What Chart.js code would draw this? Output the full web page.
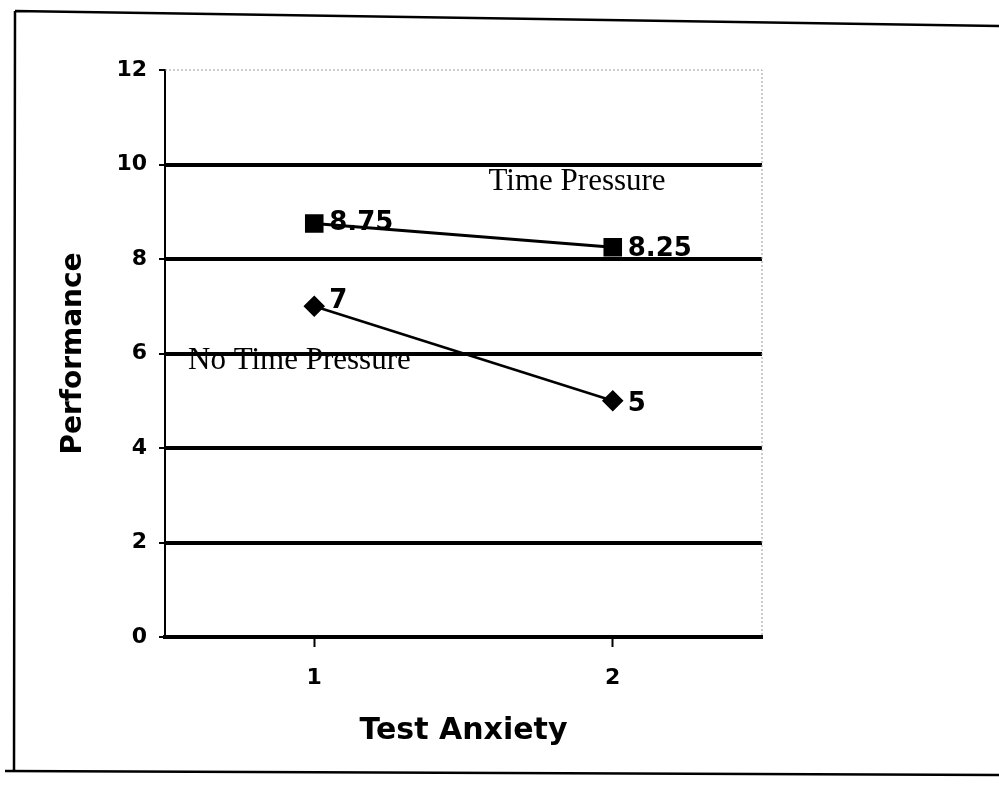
<!DOCTYPE html>
<html>
<head>
<meta charset="utf-8">
<script src="https://cdn.jsdelivr.net/npm/chart.js@4.4.1/dist/chart.umd.min.js"></script>
<style>
  html, body { margin: 0; padding: 0; background: #fff; }
  #wrap { width: 999px; height: 790px; position: relative; }
</style>
</head>
<body>
<div id="wrap"><canvas id="chart" width="999" height="790"></canvas></div>
<script>
// Daten aus der Abbildung
const categories = ['1', '2'];
const timePressure = [8.75, 8.25];
const noTimePressure = [7, 5];
const timePressureLabels = ['8.75', '8.25'];
const noTimePressureLabels = ['7', '5'];
const yTicks = [0, 2, 4, 6, 8, 10, 12];

// Rahmen, Beschriftungen der Punkte und Serienbeschriftungen
const extrasPlugin = {
  id: 'extras',
  beforeDraw(chart) {
    const ctx = chart.ctx;
    ctx.save();
    ctx.fillStyle = '#fff';
    ctx.fillRect(0, 0, chart.width, chart.height);
    ctx.restore();
  },
  afterDraw(chart) {
    const ctx = chart.ctx;
    const area = chart.chartArea;
    const y = chart.scales.y;
    const x = chart.scales.x;
    ctx.save();

    // gepunkteter Rand oben und rechts
    ctx.strokeStyle = '#9a9a9a';
    ctx.lineWidth = 1;
    ctx.setLineDash([2, 2]);
    ctx.beginPath();
    ctx.moveTo(area.left, area.top);
    ctx.lineTo(area.right, area.top);
    ctx.lineTo(area.right, area.bottom);
    ctx.stroke();
    ctx.setLineDash([]);

    // äußerer Rahmen
    ctx.strokeStyle = '#000';
    ctx.lineWidth = 2.5;
    ctx.beginPath();
    ctx.moveTo(15, 11);
    ctx.lineTo(999, 26);
    ctx.moveTo(15, 11);
    ctx.lineTo(14, 772);
    ctx.moveTo(5, 771);
    ctx.lineTo(999, 775);
    ctx.stroke();

    // Werte an den Punkten
    ctx.fillStyle = '#000';
    ctx.font = 'bold 26px "DejaVu Sans"';
    ctx.textBaseline = 'middle';
    ctx.textAlign = 'left';
    const drawLabels = (idx, labels, dy) => {
      chart.getDatasetMeta(idx).data.forEach((pt, i) => {
        ctx.fillText(labels[i], pt.x + 15, pt.y + dy[i]);
      });
    };
    drawLabels(0, timePressureLabels, [0, 2]);
    drawLabels(1, noTimePressureLabels, [-5, 3]);

    // Serienbeschriftungen
    ctx.font = '31px "Liberation Serif"';
    ctx.textBaseline = 'alphabetic';
    const xMid = x.getPixelForValue(0.5);
    ctx.fillText('Time Pressure', xMid + 25, y.getPixelForValue(9.45));
    ctx.fillText('No Time Pressure', area.left + 23, y.getPixelForValue(5.68));

    ctx.restore();
  }
};

new Chart(document.getElementById('chart'), {
  type: 'line',
  data: {
    labels: categories,
    datasets: [
      {
        label: 'Time Pressure',
        data: timePressure,
        borderColor: '#000',
        backgroundColor: '#000',
        borderWidth: 3,
        pointStyle: 'rect',
        pointRadius: 11,
        tension: 0
      },
      {
        label: 'No Time Pressure',
        data: noTimePressure,
        borderColor: '#000',
        backgroundColor: '#000',
        borderWidth: 2.5,
        pointStyle: 'rectRot',
        pointRadius: 9,
        tension: 0
      }
    ]
  },
  options: {
    responsive: false,
    animation: false,
    layout: {
      padding: { left: 43, right: 237, top: 70, bottom: 33 }
    },
    scales: {
      y: {
        min: 0,
        max: 12,
        afterFit: s => { s.width = 122; },
        afterBuildTicks: s => { s.ticks = yTicks.map(v => ({ value: v })); },
        grid: {
          color: ctx => (ctx.tick && ctx.tick.value === 12) ? 'rgba(0,0,0,0)' : '#000',
          lineWidth: 4,
          tickLength: 6,
          tickColor: '#000',
          tickWidth: 2
        },
        border: { display: true, color: '#000', width: 2 },
        ticks: {
          color: '#000',
          font: { family: 'DejaVu Sans', weight: 'bold', size: 22 },
          padding: 12
        },
        title: {
          display: true,
          text: 'Performance',
          color: '#000',
          font: { family: 'DejaVu Sans', weight: 'bold', size: 28 },
          padding: { top: 14, bottom: 0 }
        }
      },
      x: {
        offset: true,
        afterFit: s => { s.height = 120; },
        grid: {
          drawOnChartArea: false,
          drawTicks: true,
          tickLength: 10,
          tickColor: '#000',
          tickWidth: 2
        },
        border: { display: true, color: '#000', width: 4 },
        ticks: {
          color: '#000',
          font: { family: 'DejaVu Sans', weight: 'bold', size: 22 },
          padding: 18
        },
        title: {
          display: true,
          text: 'Test Anxiety',
          color: '#000',
          font: { family: 'DejaVu Sans', weight: 'bold', size: 30 },
          padding: { top: 4, bottom: 8 }
        }
      }
    },
    plugins: {
      legend: { display: false },
      tooltip: { enabled: false }
    }
  },
  plugins: [extrasPlugin]
});
</script>
</body>
</html>
